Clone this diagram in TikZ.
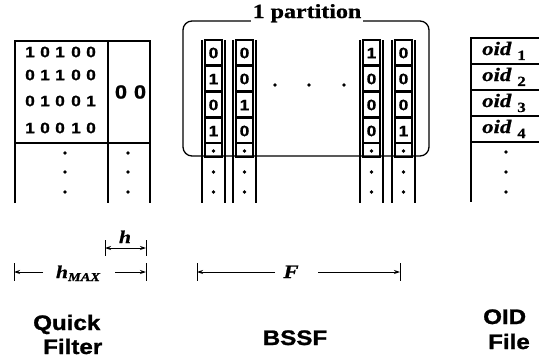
\documentclass[tikz,border=0pt]{standalone}
\usepackage{fontspec}
\setmainfont{Liberation Serif}
\newfontfamily\sansf[FakeStretch=1.15,FakeBold=1.2]{Liberation Sans}
\newfontfamily\serff[FakeStretch=1.2,FakeBold=0.8]{Liberation Serif}
\usetikzlibrary{arrows.meta}
\tikzset{
  box/.style={line width=1.3pt},
  bit/.style={inner sep=0pt, font=\sansf\bfseries\fontsize{15}{15}\selectfont},
  bigbit/.style={inner sep=0pt, font=\sansf\bfseries\fontsize{19}{19}\selectfont},
  lab/.style={inner sep=0pt, font=\sansf\bfseries\fontsize{21}{21}\selectfont},
  oidtxt/.style={inner sep=0pt, anchor=base west, font=\serff\bfseries\fontsize{19}{19}\selectfont},
  dim/.style={line width=0.9pt, -{Stealth[length=6pt,width=4pt]}},
  tick/.style={line width=0.9pt},
  dotc/.style={circle, fill=black, inner sep=0pt, minimum size=3.8pt}
}
\begin{document}
\begin{tikzpicture}[x=1pt,y=-1pt]
\useasboundingbox (0,0) rectangle (539,364);
% ---------- Quick Filter ----------
\draw[box] (15,203) -- (15,41) -- (150,41) -- (150,203);
\draw[box] (108,41) -- (108,203);
\draw[box] (15,143) -- (150,143);
\foreach \r/\y/\da/\db/\dc/\dd/\de in {1/52/1/0/1/0/0, 2/75/0/1/1/0/0, 3/101/0/1/0/0/1, 4/128/1/0/0/1/0}{
  \node[bit] (q\r a) at (30,\y) {\da};
  \node[bit] (q\r b) at (45,\y) {\db};
  \node[bit] (q\r c) at (60,\y) {\dc};
  \node[bit] (q\r d) at (76,\y) {\dd};
  \node[bit] (q\r e) at (91,\y) {\de};
}
\node[bigbit] (qh1) at (121,92) {0};
\node[bigbit] (qh2) at (140,92) {0};
\foreach \k/\y in {1/153,2/172,3/192}{
  \node[dotc] (qd\k) at (65,\y) {};
  \node[dotc] (qe\k) at (128,\y) {};
}
% ---------- BSSF ----------
\foreach \c/\xl/\ba/\bb/\bc/\bd in {1/202/0/1/0/1, 2/233/0/0/1/0, 3/360/1/0/0/0, 4/392/0/0/0/1}{
  \draw[box] (\xl,40) -- (\xl,203);
  \draw[box] (\xl+23,40) -- (\xl+23,203);
  \foreach \r/\b/\yt in {1/\ba/40, 2/\bb/66, 3/\bc/92, 4/\bd/118}{
    \draw[box] (\xl+3,\yt) rectangle (\xl+20,\yt+25);
    \node[bit] (b\c\r) at (\xl+11.5,\yt+13) {\b};
  }
  \draw[box] (\xl+3,143) rectangle (\xl+20,157);
  \foreach \k/\y in {1/151,2/172,3/192}{
    \node[dotc] (bd\c\k) at (\xl+11.5,\y) {};
  }
}
\foreach \k/\x in {1/275,2/309,3/344}{
  \node[dotc] (hd\k) at (\x,85) {};
}
\draw[box, rounded corners=9pt] (183,21) rectangle (429,156);
\node[inner sep=1.5pt, fill=white, anchor=base, font=\serff\bfseries\fontsize{20}{20}\selectfont] (part) at (307,18) {1 partition};
% ---------- OID File ----------
\draw[box] (539,38) -- (471,38) -- (471,202);
\foreach \y in {64,90,116,142}{
  \draw[box] (471,\y) -- (539,\y);
}
\foreach \r/\y in {1/55,2/81,3/107,4/133}{
  \node[oidtxt] (oid\r) at (482,\y) {\itshape oid\hspace{6pt}\upshape\raisebox{-5pt}{\fontsize{14}{14}\selectfont\r}};
}
\foreach \k/\y in {1/152,2/172,3/192}{
  \node[dotc] (od\k) at (506,\y) {};
}
% ---------- dimensions ----------
% h
\coordinate (hL) at (105,248);
\coordinate (hR) at (146,248);
\coordinate (hM) at (125.5,248);
\draw[dim] (hM) -- (hL);
\draw[dim] (hM) -- (hR);
\draw[tick] (105,240) -- (105,256);
\draw[tick] (146,240) -- (146,256);
\node[inner sep=0pt, anchor=base, font=\serff\bfseries\itshape\fontsize{18}{18}\selectfont] (hlab) at (125,243) {h};
% hMAX
\coordinate (mL) at (14,272);
\coordinate (mLi) at (43,272);
\coordinate (mRi) at (115,272);
\coordinate (mR) at (146,272);
\draw[dim] (mLi) -- (mL);
\draw[dim] (mRi) -- (mR);
\draw[tick] (14,263) -- (14,281);
\draw[tick] (146,263) -- (146,281);
\node[inner sep=0pt, anchor=base, font=\serff\bfseries\itshape\fontsize{18}{18}\selectfont] (hmlab) at (78,278) {h\raisebox{-3pt}{\fontsize{12}{12}\selectfont MAX}};
% F
\coordinate (fL) at (197,272);
\coordinate (fLi) at (275,272);
\coordinate (fRi) at (318,272);
\coordinate (fR) at (400,272);
\draw[dim] (fLi) -- (fL);
\draw[dim] (fRi) -- (fR);
\draw[tick] (197,263) -- (197,281);
\draw[tick] (400,263) -- (400,281);
\node[inner sep=0pt, anchor=base, font=\serff\bfseries\itshape\fontsize{19}{19}\selectfont] (flab) at (291,278) {F};
% ---------- bottom labels ----------
\node[lab, anchor=base west] (quick) at (33,330) {Quick};
\node[lab, anchor=base west] (filter) at (43,354) {Filter};
\node[lab, anchor=base] (bssf) at (295,345) {BSSF};
\node[lab, anchor=base west] (oidl) at (483,324) {OID};
\node[lab, anchor=base west] (file) at (488,349) {File};
\end{tikzpicture}
\end{document}
